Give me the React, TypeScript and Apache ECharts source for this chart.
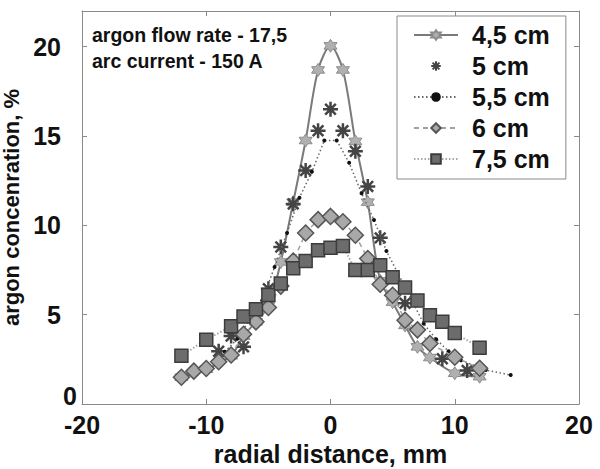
import React, { useEffect, useRef } from "react";
import * as echarts from "echarts";

// ---- data ----
const seriesNames = ["4,5 cm", "5 cm", "5,5 cm", "6 cm", "7,5 cm"];

const x45 = [-12, -10, -8, -7, -6, -5, -4, -3, -2, -1, 0, 1, 2, 3, 4, 5, 6, 7, 8, 10, 12];
const y45 = [1.5, 1.95, 2.7, 3.8, 4.6, 5.5, 7.95, 11.3, 14.75, 18.7, 20.05, 18.7, 14.7, 11.3, 6.9, 5.7, 4.4, 3.2, 2.6, 1.72, 1.53];

const x50 = [-9, -8, -7, -5, -4, -3, -2, -1, 0, 1, 2, 3, 4, 6, 9, 11];
const y50 = [2.95, 3.8, 3.2, 6.45, 8.79, 11.2, 13.07, 15.3, 16.5, 15.3, 14.15, 12.18, 9.3, 5.64, 2.53, 1.88];

const x55 = [-8.5, -7.5, -5.5, -4.5, -3.5, -2.5, -1.5, -0.5, 0.5, 1.5, 2.5, 3.5, 4.5, 7.5, 8.5, 9.5, 10.5, 12.5, 14.5];
const y55 = [2.92, 3.65, 5.8, 7.67, 9.57, 11.55, 13.0, 14.75, 14.75, 13.5, 11.8, 10.3, 8.57, 4.5, 3.63, 2.95, 2.45, 1.9, 1.62];

const x60 = [-12, -11, -10, -9, -8, -7, -6, -5, -4, -3, -2, -1, 0, 1, 2, 3, 4, 5, 6, 7, 8, 10, 12];
const y60 = [1.5, 1.84, 1.99, 2.37, 2.74, 3.9, 4.6, 5.4, 6.6, 8.0, 9.57, 10.32, 10.5, 10.2, 9.45, 8.14, 6.7, 6.09, 4.69, 4.15, 3.39, 2.62, 2.0];

const x75 = [-12, -10, -8, -7, -6, -5, -4, -3, -2, -1, 0, 1, 2, 3, 4, 5, 6, 7, 8, 9, 10, 12];
const y75 = [2.7, 3.6, 4.35, 4.9, 5.3, 6.1, 6.75, 7.6, 8.0, 8.6, 8.75, 8.85, 7.5, 7.5, 7.77, 7.1, 6.52, 5.8, 4.97, 4.6, 3.98, 3.15];

const xTicks = [-20, -10, 0, 10, 20];
const yTicks = [0, 5, 10, 15, 20];
const annotation = ["argon flow rate - 17,5", "arc current - 150 A"];
const xTitle = "radial distance, mm";
const yTitle = "argon concenration, %";

const pairs = (xs: number[], ys: number[]) => xs.map((x, i) => [x, ys[i]]);

// symbol shapes
const hexagram = (() => {
  const pts: string[] = [];
  for (let k = 0; k < 12; k++) {
    const a = ((-90 + 30 * k) * Math.PI) / 180;
    const r = k % 2 === 0 ? 10 : 5.77;
    pts.push(`${(10 + r * Math.cos(a)).toFixed(2)},${(10 + r * Math.sin(a)).toFixed(2)}`);
  }
  return "path://M" + pts.join("L") + "Z";
})();
const asterisk = "path://M10,0L10,20M0,10L20,10M2.9,2.9L17.1,17.1M2.9,17.1L17.1,2.9";

const FONT = "'Liberation Sans', Arial, sans-serif";

export default function App() {
  const ref = useRef<HTMLDivElement>(null);
  useEffect(() => {
    if (!ref.current) return;
    const chart = echarts.init(ref.current, undefined, { renderer: "svg" });
    const axisLine = { show: true, onZero: false, lineStyle: { color: "#8a8a8a", width: 1 } };
    const axisTick = { show: true, inside: true, length: 5, lineStyle: { color: "#8a8a8a" } };
    const option: any = {
      animation: false,
      backgroundColor: "#ffffff",
      grid: { left: 82, right: 21, top: 11, bottom: 65, containLabel: false, outerBoundsMode: "none" },
      xAxis: [
        {
          type: "value",
          min: xTicks[0],
          max: xTicks[xTicks.length - 1],
          interval: 10,
          axisLine,
          axisTick,
          splitLine: { show: false },
          axisLabel: {
            margin: 8,
            fontSize: 25,
            fontWeight: "bold",
            fontFamily: FONT,
            color: "#111",
            formatter: (v: number) => (xTicks.includes(v) ? String(v) : ""),
          },
          name: xTitle,
          nameLocation: "middle",
          nameGap: 37,
          nameTextStyle: { fontSize: 25, fontWeight: "bold", fontFamily: FONT, color: "#111" },
        },
        {
          type: "value",
          position: "top",
          min: xTicks[0],
          max: xTicks[xTicks.length - 1],
          interval: 10,
          axisLine,
          axisTick,
          axisLabel: { show: false },
          splitLine: { show: false },
        },
      ],
      yAxis: [
        {
          type: "value",
          position: "left",
          min: 0,
          max: 22,
          interval: 5,
          axisLine,
          axisTick,
          splitLine: { show: false },
          axisLabel: {
            margin: 21,
            fontSize: 25,
            fontWeight: "bold",
            fontFamily: FONT,
            color: "#111",
            formatter: (v: number) => (yTicks.includes(v) && v !== 0 ? String(v) : ""),
          },
          name: yTitle,
          nameLocation: "middle",
          nameGap: 48,
          nameTextStyle: { fontSize: 22, fontWeight: "bold", fontFamily: FONT, color: "#111" },
        },
        {
          type: "value",
          position: "right",
          min: 0,
          max: 22,
          interval: 5,
          axisLine,
          axisTick,
          axisLabel: { show: false },
          splitLine: { show: false },
        },
      ],
      legend: {
        orient: "vertical",
        left: 397,
        top: 16,
        padding: [6, 16, 7, 16],
        itemWidth: 44,
        itemHeight: 12,
        itemGap: 5,
        borderColor: "#8a8a8a",
        borderWidth: 1,
        backgroundColor: "#fff",
        textStyle: { fontSize: 25, fontWeight: "bold", fontFamily: FONT, color: "#111", lineHeight: 26, padding: [0, 0, 0, 9] },
        data: seriesNames,
      },
      graphic: [
        {
          type: "text",
          left: 92,
          top: 25,
          style: { text: annotation[0], fontSize: 19.5, fontWeight: "bold", fontFamily: FONT, fill: "#111" },
        },
        {
          type: "text",
          left: 92,
          top: 51,
          style: { text: annotation[1], fontSize: 19.5, fontWeight: "bold", fontFamily: FONT, fill: "#111" },
        },
        {
          type: "text",
          left: 63,
          top: 383,
          style: { text: String(yTicks[0]), fontSize: 25, fontWeight: "bold", fontFamily: FONT, fill: "#111" },
        },
      ],
      series: [
        {
          name: seriesNames[0],
          type: "line",
          data: pairs(x45, y45),
          smooth: 0.3,
          symbol: hexagram,
          symbolSize: 13,
          lineStyle: { color: "#7a7a7a", width: 2, type: "solid" },
          itemStyle: { color: "#b0b0b0", borderColor: "#8c8c8c", borderWidth: 1 },
          z: 2,
        },
        {
          name: seriesNames[1],
          type: "line",
          data: pairs(x50, y50),
          symbol: asterisk,
          symbolSize: 15,
          lineStyle: { width: 0, opacity: 0 },
          itemStyle: { color: "#444", borderColor: "#444", borderWidth: 2.5 },
          z: 3,
        },
        {
          name: seriesNames[2],
          type: "line",
          data: pairs(x55, y55),
          symbol: "circle",
          symbolSize: 4,
          lineStyle: { color: "#666", width: 1.5, type: [1.5, 2.5] },
          itemStyle: { color: "#111", borderWidth: 0 },
          z: 4,
        },
        {
          name: seriesNames[3],
          type: "line",
          data: pairs(x60, y60),
          symbol: "diamond",
          symbolSize: 16,
          lineStyle: { color: "#a0a0a0", width: 1.5, type: [5, 4] },
          itemStyle: { color: "#a8a8a8", borderColor: "#555", borderWidth: 1.5 },
          z: 5,
        },
        {
          name: seriesNames[4],
          type: "line",
          data: pairs(x75, y75),
          symbol: "rect",
          symbolSize: 13,
          lineStyle: { color: "#a8a8a8", width: 2, type: [1.5, 2] },
          itemStyle: { color: "#6c6c6c", borderColor: "#3c3c3c", borderWidth: 1.5 },
          z: 6,
        },
      ],
    };
    chart.setOption(option);
    return () => chart.dispose();
  }, []);
  return (
    <div
      ref={ref}
      style={{ position: "fixed", left: 0, top: 0, width: 600, height: 469, background: "#fff" }}
    />
  );
}
